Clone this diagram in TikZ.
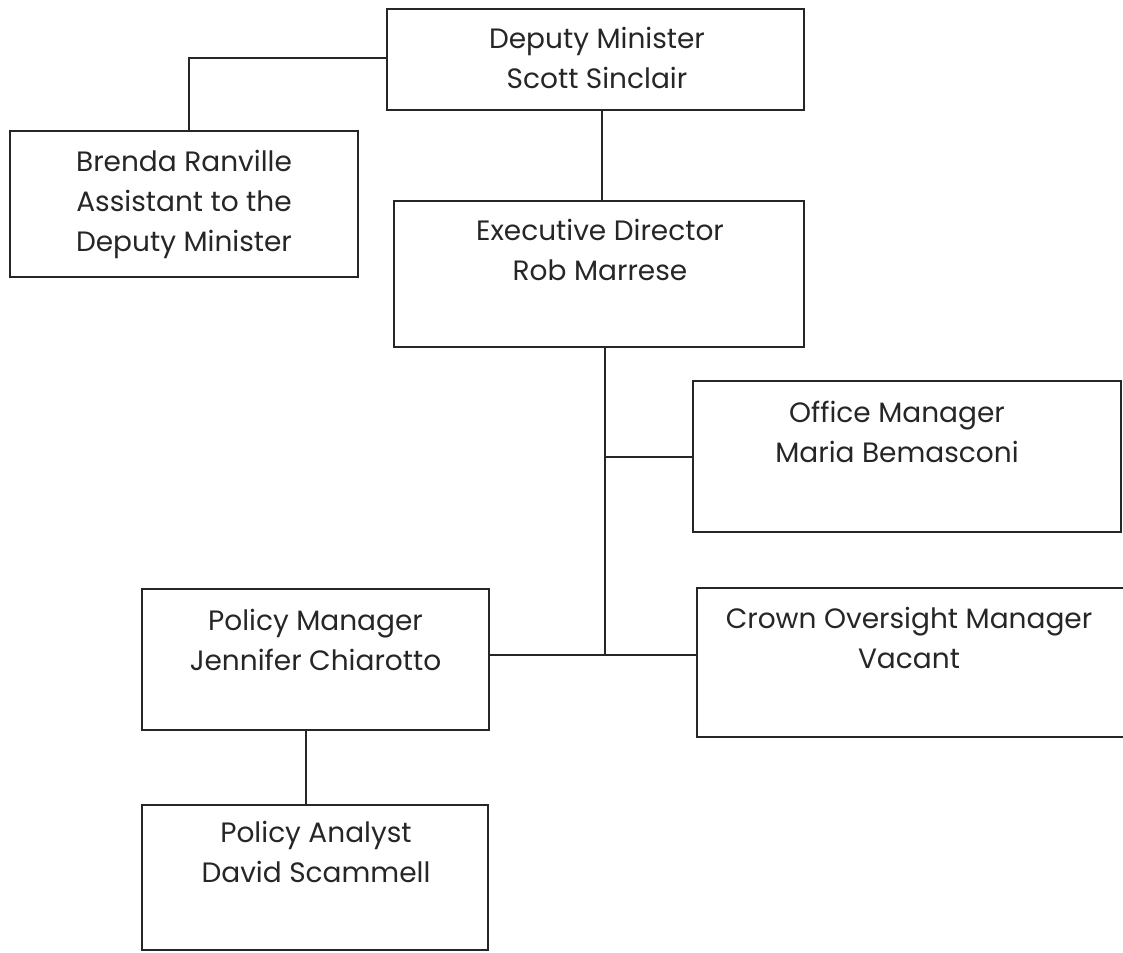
\documentclass[tikz,border=0pt]{standalone}
\usepackage{fontspec}
\setmainfont{Poppins}
\begin{document}
\begin{tikzpicture}[x=1pt,y=-1pt,
  box/.style={draw=black!85, line width=2.2pt, inner sep=0pt},
  lbl/.style={font=\fontsize{28}{40}\selectfont, align=center, anchor=base, inner sep=0pt, text=black!85},
  link/.style={draw=black!85, line width=2.2pt}]
\useasboundingbox (0,0) rectangle (1123,952);
\clip (0,0) rectangle (1123,952);
% boxes
\node[box, minimum width=417pt, minimum height=101pt] (dm) at (595.5,59.5) {};
\node[box, minimum width=348pt, minimum height=146pt] (br) at (184,204) {};
\node[box, minimum width=410pt, minimum height=146pt] (ed) at (599,274) {};
\node[box, minimum width=428pt, minimum height=151pt] (om) at (907,456.5) {};
\node[box, minimum width=443pt, minimum height=149pt] (cr) at (918.5,662.5) {};
\node[box, minimum width=347pt, minimum height=141pt] (pm) at (315.5,659.5) {};
\node[box, minimum width=346pt, minimum height=145pt] (pa) at (315,877.5) {};
% labels (anchor = baseline of the last line)
\node[lbl] (tdm) at (597,89) {Deputy Minister\\Scott Sinclair};
\node[lbl] (tbr) at (184,251) {Brenda Ranville\\Assistant to the\\Deputy Minister};
\node[lbl] (ted) at (600,280) {Executive Director\\Rob Marrese};
\node[lbl] (tom) at (897,462) {Office Manager\\Maria Bemasconi};
\node[lbl] (tcr) at (909,668) {Crown Oversight Manager\\Vacant};
\node[lbl] (tpm) at (315.5,670) {Policy Manager\\Jennifer Chiarotto};
\node[lbl] (tpa) at (316,882) {Policy Analyst\\David Scammell};
% connectors
\coordinate (xa) at (602,0);
\coordinate (xt) at (605,0);
\coordinate (xb) at (189,58);
\coordinate (xp) at (306,0);
\coordinate (yo) at (0,457);
\coordinate (yc) at (0,655);
\draw[link] (dm.south -| xa) -- (ed.north -| xa);
\draw[link] (br.north -| xb) -- (xb) -- (dm.west |- xb);
\draw[link] (ed.south -| xt) -- (xt |- yc);
\draw[link] (xt |- yo) -- (om.west |- yo);
\draw[link] (pm.east |- yc) -- (cr.west |- yc);
\draw[link] (pm.south -| xp) -- (pa.north -| xp);
\end{tikzpicture}
\end{document}
